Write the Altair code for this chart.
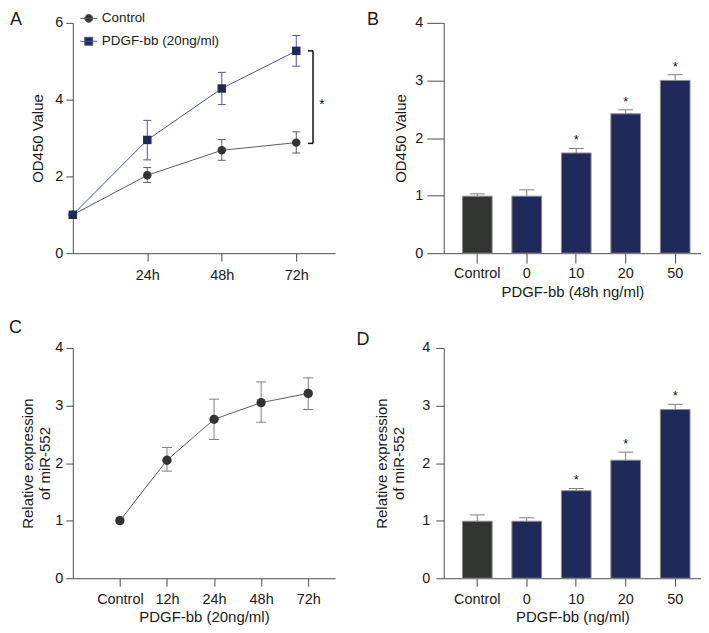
import altair as alt
import pandas as pd

FONT = "Liberation Sans"
NAVY = "#1f2a5b"
DARK = "#323432"
GRAY_LINE = "#5e5e5e"
NAVY_LINE = "#4a5a96"
ERR_GRAY = "#808080"
BAR_EDGE = "#8c8c8c"
INK = "#1a1a1a"

# ---------------- Panel A data ----------------
a_hours = [0, 24, 48, 72]
a_series = ["Control", "PDGF-bb (20ng/ml)"]
a_ctrl_mean = [1.0, 2.03, 2.68, 2.88]
a_ctrl_low = [None, 1.84, 2.42, 2.61]
a_ctrl_high = [None, 2.23, 2.96, 3.16]
a_pdgf_mean = [1.0, 2.95, 4.29, 5.27]
a_pdgf_low = [None, 2.43, 3.87, 4.87]
a_pdgf_high = [None, 3.46, 4.71, 5.67]
a_bracket_hour = [77.4]
a_bracket_cap_hour = [75.8]
a_bracket_low = [2.86]
a_bracket_high = [5.27]
a_star_hour = [80.3]
a_star_value = [3.93]

# ---------------- Panel B data ----------------
b_cats = ["Control", "0", "10", "20", "50"]
b_mean = [0.99, 0.99, 1.74, 2.42, 3.00]
b_err = [1.03, 1.10, 1.82, 2.49, 3.10]
b_sig = ["", "", "*", "*", "*"]

# ---------------- Panel C data ----------------
c_labels = ["Control", "12h", "24h", "48h", "72h"]
c_mean = [1.0, 2.05, 2.76, 3.05, 3.21]
c_low = [None, 1.86, 2.41, 2.71, 2.93]
c_high = [None, 2.27, 3.11, 3.41, 3.48]

# ---------------- Panel D data ----------------
d_cats = ["Control", "0", "10", "20", "50"]
d_mean = [0.99, 0.99, 1.52, 2.05, 2.93]
d_err = [1.10, 1.05, 1.56, 2.19, 3.02]
d_sig = ["", "", "*", "*", "*"]

H = 231


def letter(t, dx, dy):
    return alt.TitleParams(text=t, anchor="start", frame="bounds", fontSize=18,
                           fontWeight="normal", font=FONT, color=INK,
                           offset=0, dx=dx, dy=dy)


# ================= Panel A =================
rows = []
for s, ms, lo, hi in [(a_series[0], a_ctrl_mean, a_ctrl_low, a_ctrl_high),
                      (a_series[1], a_pdgf_mean, a_pdgf_low, a_pdgf_high)]:
    for h, m, l, u in zip(a_hours, ms, lo, hi):
        rows.append({"series": s, "hour": h, "mean": m, "low": l, "high": u})
a_df = pd.DataFrame(rows)
cap_rows = []
for r in rows:
    if r["low"] is not None:
        cap_rows.append({"series": r["series"], "hour": r["hour"], "v": r["low"]})
        cap_rows.append({"series": r["series"], "hour": r["hour"], "v": r["high"]})
a_caps = pd.DataFrame(cap_rows)

a_x_scale = alt.Scale(domain=[0, 84.5], nice=False, zero=False)
a_y_scale = alt.Scale(domain=[0, 6], nice=False)
a_x_axis = alt.Axis(values=[24, 48, 72], labelExpr="datum.value + 'h'", title=None,
                    tickSize=8, labelPadding=7)
a_y_axis = alt.Axis(values=[0, 2, 4, 6], title="OD450 Value", tickSize=7,
                    labelPadding=3, titlePadding=9)
a_color = alt.Color("series:N", scale=alt.Scale(domain=a_series, range=[GRAY_LINE, NAVY_LINE]),
                    legend=None)

ax = alt.X("hour:Q", scale=a_x_scale, axis=a_x_axis)
ay = alt.Y("mean:Q", scale=a_y_scale, axis=a_y_axis)

a_lines = alt.Chart(a_df).mark_line(strokeWidth=1).encode(x=ax, y=ay, color=a_color)
a_err = alt.Chart(a_df).transform_filter("isValid(datum.low)").mark_rule(strokeWidth=1).encode(
    x=ax, y=alt.Y("low:Q", scale=a_y_scale, axis=a_y_axis), y2="high:Q", color=a_color)
a_capm = alt.Chart(a_caps).mark_tick(orient="horizontal", size=8, thickness=1, opacity=1).encode(
    x=ax, y=alt.Y("v:Q", scale=a_y_scale, axis=a_y_axis), color=a_color)
a_pts_c = alt.Chart(a_df).transform_filter(alt.datum.series == a_series[0]).mark_point(
    shape="circle", filled=True, size=72, opacity=1, color=DARK).encode(x=ax, y=ay)
a_pts_p = alt.Chart(a_df).transform_filter(alt.datum.series == a_series[1]).mark_point(
    shape="square", filled=True, size=72, opacity=1, color=NAVY).encode(x=ax, y=ay)

circ_path = "M-1,0L1,0M0.47,0A0.47,0.47,0,1,1,-0.47,0A0.47,0.47,0,1,1,0.47,0Z"
sq_path = "M-1,0L1,0M-0.47,-0.47L0.47,-0.47L0.47,0.47L-0.47,0.47Z"
leg = alt.Legend(title=None, orient="none", legendX=7, legendY=-13.5, symbolSize=289,
                 symbolStrokeWidth=1, labelFontSize=13.5, labelFont=FONT, labelColor=INK,
                 rowPadding=7, labelOffset=4, padding=0)
a_leg = alt.Chart(pd.DataFrame({"series": a_series})).transform_filter("false").mark_point(
    filled=True, opacity=1, strokeWidth=1).encode(
    shape=alt.Shape("series:N", scale=alt.Scale(domain=a_series, range=[circ_path, sq_path]), legend=leg),
    fill=alt.Fill("series:N", scale=alt.Scale(domain=a_series, range=[DARK, NAVY]), legend=leg),
    stroke=alt.Stroke("series:N", scale=alt.Scale(domain=a_series, range=[GRAY_LINE, NAVY_LINE]), legend=leg),
)

br_df = pd.DataFrame({"bx": a_bracket_hour, "cx": a_bracket_cap_hour,
                      "lo": a_bracket_low, "hi": a_bracket_high})
bx = alt.X("bx:Q", scale=a_x_scale, axis=a_x_axis)
a_br_v = alt.Chart(br_df).mark_rule(strokeWidth=1.5, color="#111").encode(
    x=bx, y=alt.Y("lo:Q", scale=a_y_scale, axis=a_y_axis), y2="hi:Q")
a_br_lo = alt.Chart(br_df).mark_rule(strokeWidth=1.5, color="#111").encode(
    x=alt.X("cx:Q", scale=a_x_scale, axis=a_x_axis), x2="bx:Q",
    y=alt.Y("lo:Q", scale=a_y_scale, axis=a_y_axis))
a_br_hi = alt.Chart(br_df).mark_rule(strokeWidth=1.5, color="#111").encode(
    x=alt.X("cx:Q", scale=a_x_scale, axis=a_x_axis), x2="bx:Q",
    y=alt.Y("hi:Q", scale=a_y_scale, axis=a_y_axis))
st_df = pd.DataFrame({"sx": a_star_hour, "sy": a_star_value})
a_star = alt.Chart(st_df).mark_text(text="*", fontSize=14, font=FONT, fill="#111",
                                    baseline="middle", dy=3).encode(
    x=alt.X("sx:Q", scale=a_x_scale, axis=a_x_axis),
    y=alt.Y("sy:Q", scale=a_y_scale, axis=a_y_axis))

panel_a = alt.layer(a_lines, a_err, a_capm, a_pts_c, a_pts_p, a_br_v, a_br_lo, a_br_hi,
                    a_star, a_leg).properties(width=263, height=H, title=letter("A", -21, 14))


# ================= Bar panels =================
def bar_panel(cats, means, errs, sig, xtitle, ytitle, ytick, ylabpad, ytitlepad,
              xtick, xlabpad, xtitlepad, title):
    df = pd.DataFrame({"cat": cats, "mean": means, "err": errs, "sig": sig})
    df["grp"] = ["control" if c == "Control" else "treated" for c in cats]
    xs = alt.Scale(domain=cats, paddingInner=0.4, paddingOuter=0.30, align=0.63)
    ys = alt.Scale(domain=[0, 4], nice=False)
    xa = alt.Axis(labelAngle=0, tickSize=xtick, labelPadding=xlabpad, title=xtitle,
                  titlePadding=xtitlepad)
    ya = alt.Axis(values=[0, 1, 2, 3, 4], tickSize=ytick, labelPadding=ylabpad,
                  title=ytitle, titlePadding=ytitlepad, titleLineHeight=17.5)
    x = alt.X("cat:N", scale=xs, axis=xa, sort=cats)
    base = alt.Chart(df)
    bars = base.mark_bar(stroke=BAR_EDGE, strokeWidth=1, opacity=1).encode(
        x=x, y=alt.Y("mean:Q", scale=ys, axis=ya),
        color=alt.Color("grp:N", scale=alt.Scale(domain=["control", "treated"], range=[DARK, NAVY]),
                        legend=None))
    err = base.mark_rule(strokeWidth=1, color=ERR_GRAY).encode(
        x=x, y=alt.Y("mean:Q", scale=ys, axis=ya), y2="err:Q")
    cap = base.mark_tick(orient="horizontal", size=15, thickness=1, color=ERR_GRAY, opacity=1).encode(
        x=x, y=alt.Y("err:Q", scale=ys, axis=ya))
    stars = base.mark_text(fontSize=13, font=FONT, fill="#111", baseline="alphabetic",
                           dy=-4).encode(x=x, y=alt.Y("err:Q", scale=ys, axis=ya), text="sig:N")
    return alt.layer(bars, err, cap, stars).properties(width=258, height=H, title=title)


panel_b = bar_panel(b_cats, b_mean, b_err, b_sig, "PDGF-bb (48h ng/ml)", "OD450 Value",
                    17, 4, 6, 10, 3, 5, letter("B", -27, 14))
panel_d = bar_panel(d_cats, d_mean, d_err, d_sig, "PDGF-bb (ng/ml)",
                    ["Relative expression", "of miR-552"], 8, 6, 15, 8, 6, 4,
                    letter("D", -18, 9))

# ================= Panel C =================
c_df = pd.DataFrame({"idx": list(range(1, len(c_labels) + 1)), "lab": c_labels,
                     "mean": c_mean, "low": c_low, "high": c_high})
label_arr = "[" + ",".join("'" + l + "'" for l in c_labels) + "]"
c_xs = alt.Scale(domain=[0, 5.57], nice=False, zero=False)
c_ys = alt.Scale(domain=[0, 4], nice=False)
c_xa = alt.Axis(values=[1, 2, 3, 4, 5], labelExpr=label_arr + "[datum.value - 1]",
                title="PDGF-bb (20ng/ml)", tickSize=8, labelPadding=6, titlePadding=4)
c_ya = alt.Axis(values=[0, 1, 2, 3, 4], title=["Relative expression", "of miR-552"],
                tickSize=7, labelPadding=3, titlePadding=2, titleLineHeight=17)
cx = alt.X("idx:Q", scale=c_xs, axis=c_xa)
c_base = alt.Chart(c_df)
c_line = c_base.mark_line(strokeWidth=1, color=GRAY_LINE).encode(
    x=cx, y=alt.Y("mean:Q", scale=c_ys, axis=c_ya))
c_err = c_base.transform_filter("isValid(datum.low)").mark_rule(strokeWidth=1, color=ERR_GRAY).encode(
    x=cx, y=alt.Y("low:Q", scale=c_ys, axis=c_ya), y2="high:Q")
c_cap_lo = c_base.transform_filter("isValid(datum.low)").mark_tick(
    orient="horizontal", size=10, thickness=1, color=ERR_GRAY, opacity=1).encode(
    x=cx, y=alt.Y("low:Q", scale=c_ys, axis=c_ya))
c_cap_hi = c_base.transform_filter("isValid(datum.high)").mark_tick(
    orient="horizontal", size=10, thickness=1, color=ERR_GRAY, opacity=1).encode(
    x=cx, y=alt.Y("high:Q", scale=c_ys, axis=c_ya))
c_pts = c_base.mark_point(shape="circle", filled=True, size=88, opacity=1, color=DARK).encode(
    x=cx, y=alt.Y("mean:Q", scale=c_ys, axis=c_ya))
panel_c = alt.layer(c_line, c_err, c_cap_lo, c_cap_hi, c_pts).properties(
    width=263, height=H, title=letter("C", -12, -3))

chart = alt.concat(panel_a, panel_b, panel_c, panel_d, columns=2,
                   spacing=alt.RowColnumber(row=95, column=109), bounds="flush").resolve_scale(
    color="independent"
).properties(
    padding={"left": 0, "top": 0, "right": 0, "bottom": 0}
).configure_view(stroke=None).configure_axis(
    labelFont=FONT, titleFont=FONT, labelFontSize=14.5, titleFontSize=15,
    titleFontWeight="normal", labelColor=INK, titleColor=INK,
    domainColor="#4d4d4d", tickColor="#4d4d4d", grid=False
)

chart.save("out.html", embed_options={"renderer": "svg", "actions": False})
